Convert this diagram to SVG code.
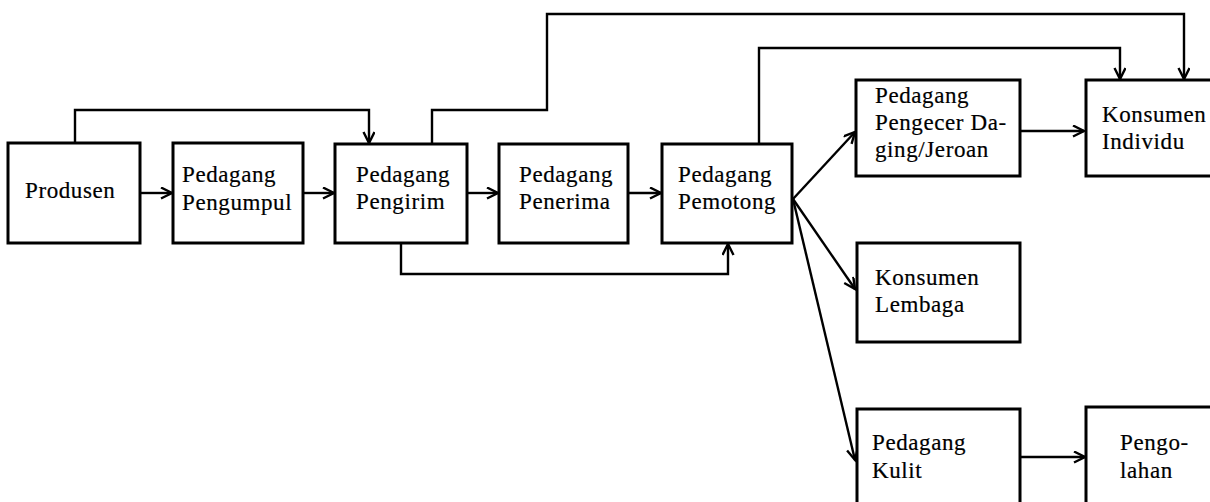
<svg xmlns="http://www.w3.org/2000/svg" width="1210" height="502" viewBox="0 0 1210 502">
  <style>
    .box { fill: #ffffff; stroke: #000000; stroke-width: 3; }
    .lbl { font-family: "Liberation Serif", "DejaVu Serif", serif; font-size: 23px; letter-spacing: 0.6px; fill: #000000; stroke: #000000; stroke-width: 0.2; }
    .edge { fill: none; stroke: #000000; stroke-width: 2.4; stroke-linejoin: miter; }
  </style>
  <defs>
    <marker id="arrow" markerUnits="userSpaceOnUse" markerWidth="16" markerHeight="16" refX="12" refY="6" orient="auto">
      <path d="M1,0.5 L12,6 L1,11.5" fill="none" stroke="#000000" stroke-width="2.4"/>
    </marker>
  </defs>
  <rect width="1210" height="502" fill="#ffffff"/>

  <!-- connectors -->
  <g id="connectors" class="edge">
    <path class="edge" d="M140,193 L172,193" marker-end="url(#arrow)"/>
    <path class="edge" d="M303,193 L334,193" marker-end="url(#arrow)"/>
    <path class="edge" d="M467,193 L498,193" marker-end="url(#arrow)"/>
    <path class="edge" d="M628,193 L661,193" marker-end="url(#arrow)"/>
    <!-- Produsen over to Pengirim -->
    <path class="edge" d="M75,143 L75,110 L369,110 L369,143" marker-end="url(#arrow)"/>
    <!-- Pengirim to Konsumen Individu -->
    <path class="edge" d="M432,144 L432,110 L547,110 L547,14 L1184,14 L1184,79" marker-end="url(#arrow)"/>
    <!-- Pemotong to Konsumen Individu -->
    <path class="edge" d="M759,144 L759,48 L1120,48 L1120,79" marker-end="url(#arrow)"/>
    <!-- Pengirim under to Pemotong -->
    <path class="edge" d="M401,243 L401,274 L728,274 L728,244" marker-end="url(#arrow)"/>
    <!-- fan out from Pemotong -->
    <path class="edge" d="M793,199 L855,132" marker-end="url(#arrow)"/>
    <path class="edge" d="M793,199 L855,289" marker-end="url(#arrow)"/>
    <path class="edge" d="M793,199 L855,460" marker-end="url(#arrow)"/>
    <path class="edge" d="M1020,131 L1084,131" marker-end="url(#arrow)"/>
    <path class="edge" d="M1020,457 L1085,457" marker-end="url(#arrow)"/>
  </g>

  <g id="produsen">
    <rect class="box" x="8" y="143" width="132" height="100"/>
    <text class="lbl" x="25" y="198">Produsen</text>
  </g>
  <g id="pengumpul">
    <rect class="box" x="173" y="143" width="130" height="100"/>
    <text class="lbl" x="182" y="182">Pedagang</text>
    <text class="lbl" x="182" y="210">Pengumpul</text>
  </g>
  <g id="pengirim">
    <rect class="box" x="335" y="144" width="132" height="99"/>
    <text class="lbl" x="356" y="182">Pedagang</text>
    <text class="lbl" x="356" y="209">Pengirim</text>
  </g>
  <g id="penerima">
    <rect class="box" x="499" y="144" width="129" height="99"/>
    <text class="lbl" x="519" y="182">Pedagang</text>
    <text class="lbl" x="519" y="209">Penerima</text>
  </g>
  <g id="pemotong">
    <rect class="box" x="662" y="144" width="130" height="99"/>
    <text class="lbl" x="678" y="182">Pedagang</text>
    <text class="lbl" x="678" y="209">Pemotong</text>
  </g>
  <g id="pengecer">
    <rect class="box" x="856" y="80" width="164" height="96"/>
    <text class="lbl" x="875" y="103">Pedagang</text>
    <text class="lbl" x="875" y="130">Pengecer Da-</text>
    <text class="lbl" x="875" y="157">ging/Jeroan</text>
  </g>
  <g id="konsumen-individu">
    <rect class="box" x="1086" y="80" width="140" height="96"/>
    <text class="lbl" x="1102" y="122">Konsumen</text>
    <text class="lbl" x="1102" y="149">Individu</text>
  </g>
  <g id="konsumen-lembaga">
    <rect class="box" x="857" y="243" width="163" height="99"/>
    <text class="lbl" x="875" y="285">Konsumen</text>
    <text class="lbl" x="875" y="312">Lembaga</text>
  </g>
  <g id="pedagang-kulit">
    <rect class="box" x="857" y="409" width="163" height="110"/>
    <text class="lbl" x="872" y="450">Pedagang</text>
    <text class="lbl" x="872" y="478">Kulit</text>
  </g>
  <g id="pengolahan">
    <rect class="box" x="1086" y="407" width="140" height="110"/>
    <text class="lbl" x="1120" y="450">Pengo-</text>
    <text class="lbl" x="1120" y="478">lahan</text>
  </g>
</svg>
